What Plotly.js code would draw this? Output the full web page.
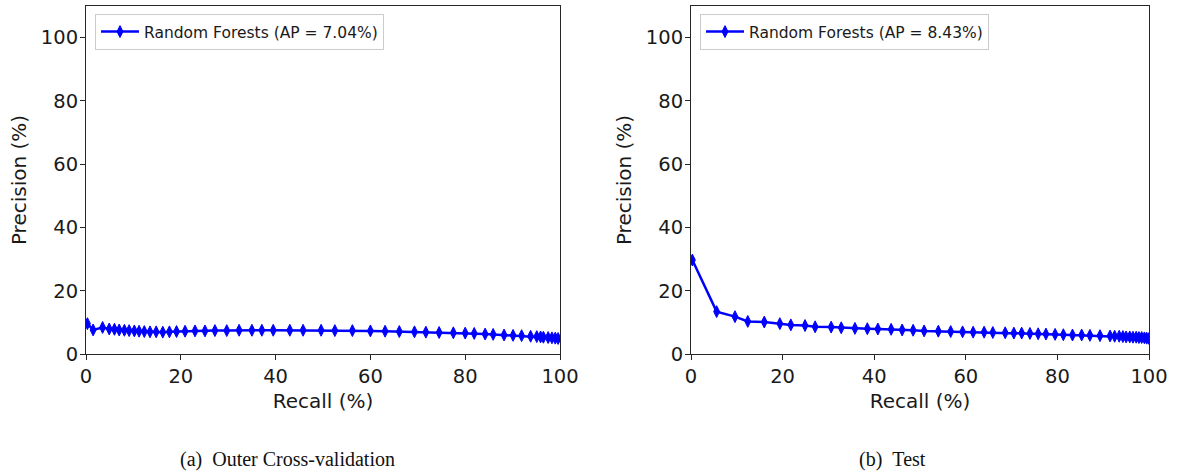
<!DOCTYPE html>
<html>
<head>
<meta charset="utf-8">
<script src="https://cdn.plot.ly/plotly-3.0.1.min.js"></script>
<style>html,body{margin:0;padding:0;background:#fff;}#chart{width:1177px;height:475px;}</style>
</head>
<body>
<div id="chart"></div>
<script>
// Outer cross-validation (left panel)
const cvRecall = [0.3, 1.5, 3.5, 4.9, 6.0, 7.0, 8.1, 9.1, 10.2, 11.2, 12.3, 13.5, 14.8, 16.2, 17.6, 19.1, 20.9, 23.0, 25.1, 27.2, 29.7, 32.3, 35.0, 37.1, 39.5, 43.0, 45.8, 49.6, 52.5, 56.2, 60.0, 63.1, 66.1, 69.3, 71.7, 74.5, 77.5, 80.0, 81.9, 84.2, 85.9, 88.2, 90.1, 91.9, 93.8, 95.1, 95.9, 96.5, 97.5, 98.3, 99.0, 99.6];
const cvPrecision = [9.6, 7.6, 8.4, 7.9, 7.8, 7.6, 7.5, 7.4, 7.3, 7.2, 7.1, 7.0, 7.0, 6.9, 7.0, 7.1, 7.2, 7.3, 7.3, 7.4, 7.4, 7.5, 7.5, 7.5, 7.5, 7.5, 7.5, 7.5, 7.4, 7.4, 7.3, 7.2, 7.1, 7.0, 6.9, 6.8, 6.7, 6.6, 6.5, 6.3, 6.2, 6.0, 5.9, 5.8, 5.6, 5.5, 5.4, 5.3, 5.2, 5.1, 5.0, 4.9];
// Test (right panel)
const testRecall = [0.3, 5.6, 9.6, 12.4, 16.0, 19.4, 21.8, 24.9, 27.1, 30.6, 32.8, 35.8, 38.5, 40.8, 43.7, 46.1, 48.5, 50.9, 54.0, 56.7, 59.3, 61.6, 64.0, 65.9, 68.6, 70.5, 72.2, 74.0, 75.8, 77.5, 79.5, 81.3, 83.3, 85.3, 87.1, 89.3, 91.5, 92.5, 93.5, 94.3, 95.0, 95.8, 96.5, 97.2, 97.8, 98.4, 99.0, 99.5, 100];
const testPrecision = [29.7, 13.4, 11.8, 10.3, 10.1, 9.6, 9.2, 9.0, 8.6, 8.5, 8.3, 8.1, 8.0, 7.9, 7.8, 7.6, 7.5, 7.3, 7.2, 7.1, 7.0, 6.9, 6.9, 6.8, 6.7, 6.6, 6.6, 6.5, 6.4, 6.3, 6.2, 6.1, 6.0, 6.0, 5.9, 5.8, 5.7, 5.6, 5.6, 5.5, 5.4, 5.4, 5.3, 5.3, 5.2, 5.2, 5.1, 5.0, 4.9];
const legendNames = ["Random Forests (AP = 7.04%)", "Random Forests (AP = 8.43%)"];
const captions = ["(a)\u2002Outer Cross-validation", "(b)\u2002Test"];
const xTitle = "Recall (%)";
const yTitle = "Precision (%)";
const tickVals = [0, 20, 40, 60, 80, 100];

const W = 1177, H = 475;
const font = "DejaVu Sans, sans-serif";
const blue = "#0000ff";

function trace(x, y, name, xa, ya, lg) {
  return {
    x: x, y: y, name: name, xaxis: xa, yaxis: ya, legend: lg,
    type: "scatter", mode: "lines+markers", showlegend: true,
    line: {color: blue, width: 2.5},
    marker: {symbol: "diamond-tall", size: 8.5, color: blue, line: {color: blue, width: 1}}
  };
}

function xax(domain, anchor) {
  return {
    domain: domain, anchor: anchor, range: [0, 100], tickvals: tickVals,
    showgrid: false, zeroline: false, showline: true, mirror: true,
    linecolor: "#262626", linewidth: 1, ticks: "outside", ticklen: 5, tickcolor: "#262626",
    tickfont: {family: font, size: 19.5, color: "#1a1a1a"},
    title: {text: xTitle, font: {family: font, size: 20, color: "#1a1a1a"}, standoff: 6}
  };
}
function yax(domain, anchor) {
  return {
    domain: domain, anchor: anchor, range: [0, 110], tickvals: tickVals,
    showgrid: false, zeroline: false, showline: true, mirror: true,
    linecolor: "#262626", linewidth: 1, ticks: "outside", ticklen: 5, tickcolor: "#262626",
    ticklabelstandoff: -2,
    tickfont: {family: font, size: 19.5, color: "#1a1a1a"},
    title: {text: yTitle, font: {family: font, size: 20, color: "#1a1a1a"}, standoff: 8}
  };
}

const yDom = [1 - 354 / H, 1 - 6 / H];
const legendStyle = {
  xanchor: "left", yanchor: "top",
  bgcolor: "rgba(255,255,255,0.8)", bordercolor: "#cccccc", borderwidth: 1,
  font: {family: font, size: 15.5, color: "#1a1a1a"}, itemwidth: 38
};
const layout = {
  width: W, height: H,
  margin: {l: 0, r: 0, t: 0, b: 0},
  paper_bgcolor: "#fff", plot_bgcolor: "#fff",
  xaxis: xax([86 / W, 560 / W], "y"),
  yaxis: yax(yDom, "x"),
  xaxis2: xax([691 / W, 1149 / W], "y2"),
  yaxis2: yax(yDom, "x2"),
  legend: Object.assign({x: 95 / W, y: 1 - 14 / H}, legendStyle),
  legend2: Object.assign({x: 700 / W, y: 1 - 14 / H}, legendStyle),
  annotations: [
    {text: captions[0], xref: "paper", yref: "paper", x: 287 / W, y: 1 - 459 / H,
     xanchor: "center", yanchor: "middle", showarrow: false,
     font: {family: "Liberation Serif, Times New Roman, serif", size: 20, color: "#111"}},
    {text: captions[1], xref: "paper", yref: "paper", x: 892 / W, y: 1 - 459 / H,
     xanchor: "center", yanchor: "middle", showarrow: false,
     font: {family: "Liberation Serif, Times New Roman, serif", size: 20, color: "#111"}}
  ]
};

Plotly.newPlot("chart", [
  trace(cvRecall, cvPrecision, legendNames[0], "x", "y", "legend"),
  trace(testRecall, testPrecision, legendNames[1], "x2", "y2", "legend2")
], layout, {displayModeBar: false, staticPlot: true});
</script>
</body>
</html>
